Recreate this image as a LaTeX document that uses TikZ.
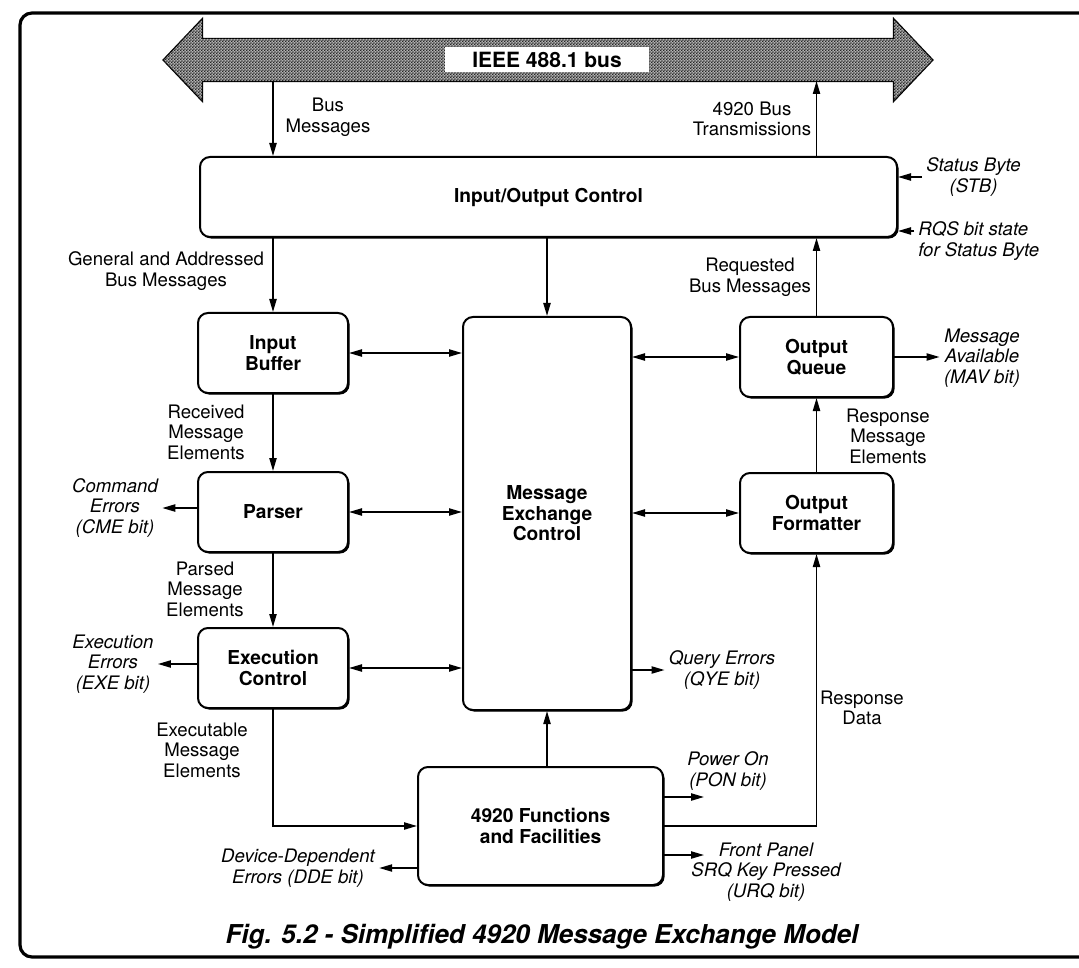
\documentclass[tikz,border=0pt]{standalone}
\usepackage{fontspec}
\setmainfont{TeX Gyre Heros}
\usepackage{tikz}
\usetikzlibrary{arrows.meta,shapes.arrows,shadows,patterns,calc}

\pgfdeclarepatternformonly{buscheck}{\pgfqpoint{0pt}{0pt}}{\pgfqpoint{1.4pt}{1.4pt}}{\pgfqpoint{1.4pt}{1.4pt}}{%
  \pgfpathrectangle{\pgfqpoint{0pt}{0pt}}{\pgfqpoint{0.7pt}{0.7pt}}%
  \pgfpathrectangle{\pgfqpoint{0.7pt}{0.7pt}}{\pgfqpoint{0.7pt}{0.7pt}}%
  \pgfusepath{fill}}

\begin{document}
\begin{tikzpicture}[x=0.5pt,y=-0.5pt,
	block/.style={draw, line width=1pt, rounded corners=5pt, fill=white, align=center, inner sep=0pt,
		font=\fontsize{9.6}{10.3}\selectfont\bfseries,
		general shadow={fill=black, shadow xshift=0.8pt, shadow yshift=-0.8pt}},
	smallblock/.style={block, minimum width=75pt, minimum height=40pt},
	lbl/.style={align=center, inner sep=2pt, font=\fontsize{9.3}{10.3}\selectfont},
	stat/.style={lbl, font=\fontsize{9.3}{10.3}\selectfont\itshape},
	arr/.style={line width=0.8pt, -{Triangle[length=6.5pt,width=3.6pt]}},
	biarr/.style={line width=0.8pt, {Triangle[length=6.5pt,width=3.6pt]}-{Triangle[length=6.5pt,width=3.6pt]}}]

		\useasboundingbox (0,0) rectangle (1079,967);
		\draw[line width=1.6pt, rounded corners=6pt] (1100,13) -- (20,13) -- (20,957) -- (1100,957);

		\node[double arrow, draw, line width=0.6pt, fill=gray!60, postaction={pattern=buscheck, pattern color=black!85},
			minimum height=385pt, minimum width=41pt, double arrow head extend=10pt, double arrow tip angle=93,
			inner xsep=0pt, inner ysep=10.5pt] (bus) at (548,60) {};
		\node[fill=white, minimum width=102pt, minimum height=12.5pt, inner sep=0pt,
			font=\fontsize{10.5}{12}\selectfont\bfseries] (buslbl) at (547,59.5) {IEEE 488.1 bus};
		\coordinate (busin) at (273,81);
		\coordinate (busout) at (816.5,81);

		\node[block, minimum width=348.5pt, minimum height=40pt] (io) at (548.5,197) {Input/Output Control};
		\node[smallblock] (ibuf) at (273,353) {Input\\Buffer};
		\node[smallblock] (parser) at (273,512) {Parser};
		\node[smallblock] (exec) at (273,668) {Execution\\Control};
		\node[block, minimum width=84pt, minimum height=196.5pt] (mec) at (547,513.5) {Message\\Exchange\\Control};
		\node[smallblock, minimum width=76.5pt] (oq) at (816.5,357) {Output\\Queue};
		\node[smallblock, minimum width=76.5pt] (of) at (816.5,513) {Output\\Formatter};
		\node[block, minimum width=122.5pt, minimum height=59pt] (func) at (540.5,826) {4920 Functions\\and Facilities};

		\draw[arr] (busin) -- (io.north -| busin);
		\draw[arr] (io.north -| busout) -- (busout);
		\draw[arr] (io.south -| ibuf) -- (ibuf.north);
		\draw[arr] (io.south -| mec) -- (mec.north);
		\draw[arr] (oq.north) -- (io.south -| oq);
		\draw[arr] (ibuf) -- (parser);
		\draw[arr] (parser) -- (exec);
		\draw[arr] (exec.south) |- (func.west);
		\draw[arr] (func.north -| mec) -- (mec.south);
		\draw[arr] (func.east) -| (of.south);
		\draw[arr] (of) -- (oq);

		\draw[biarr] (ibuf.east) -- (ibuf.east -| mec.west);
		\draw[biarr] (parser.east) -- (parser.east -| mec.west);
		\draw[biarr] (exec.east) -- (exec.east -| mec.west);
		\draw[biarr] (oq.west -| mec.east) -- (oq.west);
		\draw[biarr] (of.west -| mec.east) -- (of.west);

		\node[lbl] (busmsg) at (328,117) {Bus\\Messages};
		\node[lbl] (bustx) at (752,119) {4920 Bus\\Transmissions};
		\node[lbl] (genmsg) at (166,271) {General and Addressed\\Bus Messages};
		\node[lbl] (reqmsg) at (750,277) {Requested\\Bus Messages};
		\node[lbl] (rcvd) at (206,432) {Received\\Message\\Elements};
		\node[lbl] (parsed) at (205,589) {Parsed\\Message\\Elements};
		\node[lbl] (execmsg) at (202,750) {Executable\\Message\\Elements};
		\node[lbl] (respmsg) at (888,436) {Response\\Message\\Elements};
		\node[lbl] (rdata) at (862,708) {Response\\Data};

		\node[stat, anchor=west] (stb) at (922,177) {Status Byte\\(STB)};
		\draw[arr] (stb.west) -- (stb.west -| io.east);
		\node[stat, anchor=west, align=left] (rqs) at (914,241) {RQS bit state\\for Status Byte};
		\draw[arr] ([yshift=5pt]rqs.west) -- ([yshift=5pt]rqs.west -| io.east);

		\node[stat] (mav) at (982,358) {Message\\Available\\(MAV bit)};
		\draw[arr] (oq.east) -- (oq.east -| mav.west);
		\node[stat] (cme) at (115,508) {Command\\Errors\\(CME bit)};
		\draw[arr] (cme.east -| parser.west) -- (cme.east);
		\node[stat] (exe) at (113,664) {Execution\\Errors\\(EXE bit)};
		\draw[arr] (exe.east -| exec.west) -- (exe.east);
		\node[stat] (qye) at (722,670) {Query Errors\\(QYE bit)};
		\draw[arr] (qye.west -| mec.east) -- (qye.west);
		\node[stat] (dde) at (298,868) {Device-Dependent\\Errors (DDE bit)};
		\draw[arr] (dde.east -| func.west) -- (dde.east);
		\node[stat] (pon) at (728,771) {Power On\\(PON bit)};
		\coordinate (ponend) at (704,797);
		\draw[arr] (ponend -| func.east) -- (ponend);
		\node[stat] (urq) at (766,872) {Front Panel\\SRQ Key Pressed\\(URQ bit)};
		\coordinate (urqend) at (704,855);
		\draw[arr] (urqend -| func.east) -- (urqend);

		\node[font=\fontsize{13}{15}\selectfont\bfseries\itshape] (caption) at (542,937) {Fig. 5.2 - Simplified 4920 Message Exchange Model};
	\end{tikzpicture}
\end{document}
